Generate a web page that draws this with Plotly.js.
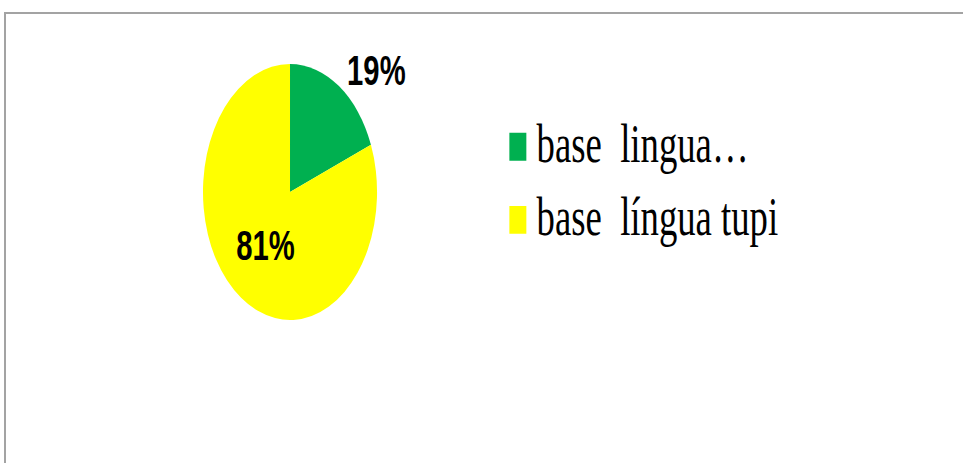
<!DOCTYPE html>
<html>
<head>
<meta charset="utf-8">
<script src="https://cdn.plot.ly/plotly-3.0.1.min.js"></script>
<style>
  html, body { margin: 0; padding: 0; background: #fff; overflow: hidden; }
  #wrap { position: relative; width: 963px; height: 463px; overflow: hidden; background: #fff; }
  #frame { position: absolute; left: 4px; top: 12px; width: 1000px; height: 500px;
           border-top: 2px solid #a3a3a3; border-left: 2px solid #a3a3a3; box-sizing: border-box; }
  #plot { position: absolute; left: 0; top: 0; width: 1416px; height: 463px;
          transform: scaleX(0.68); transform-origin: 0 0; }
  #plot .legendpie { transform: translate(11px, 6px) scale(2.33) !important; }
</style>
</head>
<body>
<div id="wrap">
  <div id="frame"></div>
  <div id="plot"></div>
</div>
<script>
const labels = ["base\u00a0 lingua\u2026", "base\u00a0 l\u00edngua tupi"];
const values = [19, 81];
const colors = ["#00b050", "#ffff00"];
const textPositions = ["outside", "inside"];

const pctFont = { family: "Liberation Sans, Arial, sans-serif", size: 43, color: "#000", weight: "bold" };

const data = [{
  type: "pie",
  labels: labels,
  values: values,
  marker: { colors: colors, line: { width: 0 } },
  sort: false,
  direction: "clockwise",
  rotation: 0,
  textinfo: "percent",
  texttemplate: "%{percent:.0%}",
  textposition: textPositions,
  insidetextorientation: "horizontal",
  textfont: pctFont,
  outsidetextfont: pctFont,
  insidetextfont: pctFont,
  automargin: false,
  hoverinfo: "label+percent",
  domain: { x: [0.2108, 0.3916], y: [0.3089, 0.8618] }
}];

const layout = {
  width: 1416,
  height: 463,
  margin: { l: 0, r: 0, t: 0, b: 0 },
  paper_bgcolor: "rgba(0,0,0,0)",
  plot_bgcolor: "rgba(0,0,0,0)",
  showlegend: true,
  legend: {
    x: 0.529, xanchor: "left",
    y: 0.786, yanchor: "top",
    font: { family: "Liberation Serif, Times New Roman, serif", size: 54, color: "#000" },
    bgcolor: "rgba(0,0,0,0)",
    borderwidth: 0
  }
};

Plotly.newPlot("plot", data, layout, { displayModeBar: false, staticPlot: true });
</script>
</body>
</html>
